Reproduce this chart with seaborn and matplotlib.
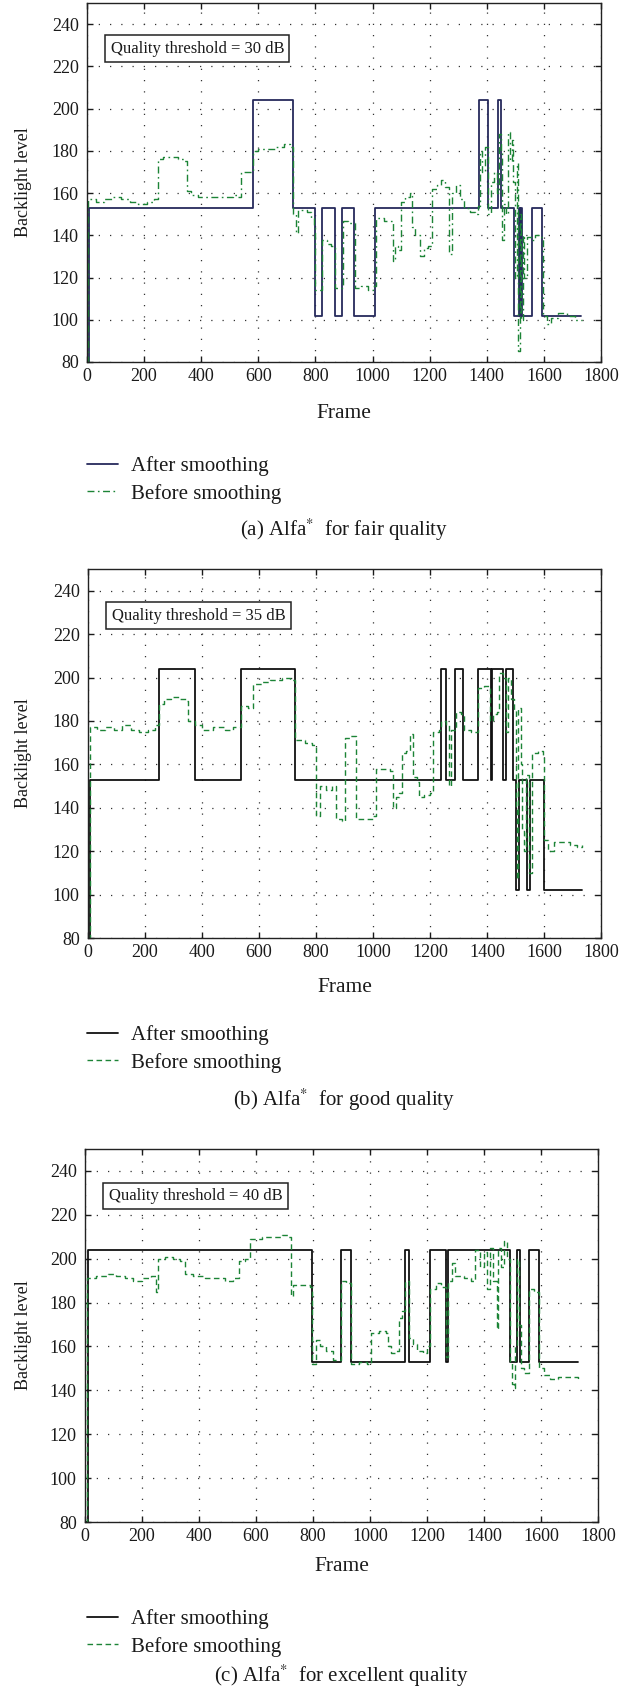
import numpy as np
import pandas as pd
import matplotlib
matplotlib.use("Agg")
import matplotlib.pyplot as plt
import seaborn as sns

# ---------------- data ----------------
thresholds = ["Quality threshold = 30 dB", "Quality threshold = 35 dB", "Quality threshold = 40 dB"]
captions = [r"(a) Alfa$^{*}$  for fair quality", r"(b) Alfa$^{*}$  for good quality",
            r"(c) Alfa$^{*}$  for excellent quality"]
series_labels = ["After smoothing", "Before smoothing"]
x_ticks = [0, 200, 400, 600, 800, 1000, 1200, 1400, 1600, 1800]
y_ticks = [80, 100, 120, 140, 160, 180, 200, 220, 240]

p1_after_frame = [0, 7, 583, 721, 799, 822, 870, 894, 936, 1009, 1374, 1405, 1440, 1451, 1495,
                  1513, 1517, 1521, 1525, 1557, 1595, 1730]
p1_after_level = [80, 153, 204, 153, 102, 153, 102, 153, 102, 153, 204, 153, 204, 153, 102,
                  153, 102, 153, 102, 153, 102, 102]

p1_before_frame = [0, 4, 30, 60, 90, 120, 150, 180, 210, 235, 247, 265, 290, 320, 340, 349, 365, 390,
                   430, 470, 510, 530, 541, 560, 583, 600, 630, 660, 690, 710, 722, 731, 738, 770,
                   785, 795, 800, 822, 840, 855, 870, 895, 915, 940, 960, 985, 1000, 1012, 1040,
                   1060, 1073, 1080, 1090, 1100, 1115, 1130, 1138, 1150, 1165, 1180, 1195, 1207,
                   1225, 1240, 1255, 1268, 1278, 1292, 1305, 1320, 1340, 1360, 1370, 1375, 1385,
                   1395, 1405, 1415, 1425, 1435, 1442, 1450, 1454, 1460, 1468, 1474, 1480, 1487,
                   1493, 1500, 1506, 1511, 1516, 1521, 1526, 1532, 1540, 1555, 1570, 1585, 1597,
                   1610, 1625, 1650, 1680, 1710, 1735]
p1_before_level = [80, 157, 156, 157, 158, 157, 156, 155, 156, 157, 176, 177, 177, 176, 175, 161, 159, 158,
                   158, 158, 159, 158, 170, 170, 180, 181, 181, 182, 183, 182, 150, 141, 152, 151,
                   148, 145, 114, 138, 136, 135, 115, 147, 146, 115, 116, 114, 116, 148, 147,
                   147, 128, 135, 133, 156, 158, 160, 144, 140, 130, 134, 135, 162,
                   164, 166, 163, 131, 160, 164, 157, 153, 151, 150, 154, 180, 170,
                   182, 150, 165, 170, 160, 188, 180, 138, 155, 150, 189, 175, 185,
                   165, 120, 174, 85, 150, 100, 140, 120, 139, 138, 140, 139, 102,
                   98, 101, 103, 102, 100, 100]

p2_after_frame = [0, 7, 248, 375, 537, 728, 1238, 1256, 1289, 1315, 1369, 1413, 1418, 1457, 1466,
                  1491, 1502, 1512, 1540, 1552, 1601, 1732]
p2_after_level = [80, 153, 204, 153, 204, 153, 204, 153, 204, 153, 204, 153, 204, 153, 204,
                  153, 102, 153, 102, 153, 102, 102]

p2_before_frame = [0, 6, 30, 60, 90, 120, 150, 180, 210, 235, 250, 265, 290, 320, 345, 350, 375, 400,
                   440, 480, 510, 537, 560, 580, 610, 640, 680, 710, 728, 760, 785, 800, 815, 835,
                   855, 870, 890, 900, 920, 940, 970, 1000, 1012, 1040, 1060, 1070, 1080, 1090,
                   1100, 1115, 1130, 1140, 1155, 1160, 1180, 1200, 1210, 1230, 1240, 1255, 1265,
                   1275, 1290, 1310, 1320, 1345, 1369, 1390, 1410, 1420, 1435, 1443, 1455, 1465,
                   1475, 1485, 1493, 1500, 1505, 1510, 1518, 1524, 1530, 1538, 1548, 1558, 1580,
                   1595, 1601, 1615, 1635, 1660, 1690, 1715, 1732]
p2_before_level = [80, 177, 176, 177, 176, 178, 176, 175, 176, 178, 188, 190, 191, 190, 189, 180, 178, 176,
                   177, 176, 177, 187, 186, 197, 198, 199, 200, 199, 171, 170, 169, 136, 150, 148,
                   150, 135, 134, 172, 173, 135, 135, 136, 158, 158, 157, 140, 145, 147,
                   165, 166, 174, 154, 152, 145, 146, 147, 175, 176, 180, 178, 150,
                   176, 184, 183, 176, 175, 195, 196, 180, 183, 184, 202, 200, 175,
                   200, 190, 185, 140, 107, 186, 160, 130, 120, 155, 110, 165, 166,
                   163, 125, 120, 124, 124, 123, 122, 123]

p3_after_frame = [0, 10, 798, 897, 934, 1122, 1136, 1211, 1265, 1274, 1491, 1516, 1527, 1557, 1594, 1731]
p3_after_level = [80, 204, 153, 204, 153, 204, 153, 204, 153, 204, 153, 204, 153, 204, 153, 153]

p3_before_frame = [0, 8, 40, 80, 110, 140, 170, 200, 230, 248, 255, 280, 310, 335, 350, 380, 420, 460,
                   490, 520, 540, 560, 580, 620, 660, 690, 712, 722, 730, 770, 790, 798, 810, 825,
                   845, 870, 897, 915, 934, 960, 990, 1003, 1030, 1055, 1063, 1075, 1090, 1100,
                   1112, 1122, 1136, 1150, 1165, 1185, 1200, 1211, 1230, 1250, 1265, 1274, 1288,
                   1300, 1330, 1355, 1370, 1385, 1400, 1410, 1420, 1433, 1445, 1450, 1460, 1470,
                   1482, 1491, 1498, 1505, 1510, 1516, 1522, 1530, 1540, 1557, 1575, 1594, 1610,
                   1630, 1660, 1700, 1731]
p3_before_level = [80, 191, 192, 193, 192, 191, 190, 191, 192, 185, 200, 201, 200, 199, 193, 192, 191, 191,
                   190, 191, 199, 200, 209, 210, 210, 211, 210, 183, 188, 188, 187, 152, 163, 160,
                   158, 154, 190, 189, 152, 153, 152, 166, 167, 166, 160, 157, 158, 173,
                   176, 190, 164, 161, 158, 157, 160, 186, 189, 187, 155, 190, 198,
                   192, 191, 190, 204, 196, 203, 186, 205, 190, 168, 205, 196, 208,
                   200, 153, 143, 141, 160, 200, 170, 150, 148, 186, 185, 150, 147,
                   145, 146, 146, 145]

panels = [
    (p1_after_frame, p1_after_level, p1_before_frame, p1_before_level),
    (p2_after_frame, p2_after_level, p2_before_frame, p2_before_level),
    (p3_after_frame, p3_after_level, p3_before_frame, p3_before_level),
]

# ---------------- style ----------------
sns.set_theme(style="ticks")
plt.rcParams["font.family"] = ["Liberation Serif", "DejaVu Serif"]
plt.rcParams["mathtext.fontset"] = "stix"
plt.rcParams["axes.linewidth"] = 1.0

W, H = 633, 1692
fig = plt.figure(figsize=(W / 100, H / 100), dpi=100)

# axes boxes in pixels: left, right, top, bottom
boxes = [(87, 601, 3, 362), (88, 601, 569, 938), (85, 598, 1149, 1522)]
frame_y = [413, 988, 1566]
legend_top = [456, 1025, 1609]
caption_y = [530, 1100, 1676]
after_colors = ["#262a5c", "#111111", "#111111"]
green = "#1c8436"
before_styles = [(0, (5, 2.5, 1.2, 2.5)), (0, (4, 2.5)), (0, (4, 2.5))]
txt = "#1a1a1a"

for i, (af, al, bf, bl) in enumerate(panels):
    l, r, t, b = boxes[i]
    ax = fig.add_axes([l / W, 1 - b / H, (r - l) / W, (b - t) / H])
    df_a = pd.DataFrame({"Frame": af, "Level": al})
    df_b = pd.DataFrame({"Frame": bf, "Level": bl})
    sns.lineplot(data=df_a, x="Frame", y="Level", ax=ax, estimator=None, sort=False,
                 drawstyle="steps-post", color=after_colors[i], linewidth=1.3)
    sns.lineplot(data=df_b, x="Frame", y="Level", ax=ax, estimator=None, sort=False,
                 drawstyle="steps-post", color=green, linewidth=1.0)
    lines = ax.get_lines()
    lines[1].set_linestyle(before_styles[i])
    ax.set_xlim(0, 1800)
    ax.set_ylim(80, 250)
    ax.set_xticks(x_ticks)
    ax.set_yticks(y_ticks)
    ax.set_xlabel("")
    ax.set_ylabel("")
    ax.tick_params(direction="in", top=True, right=True, length=4, width=1,
                   labelsize=13, colors=txt, pad=4)
    ax.tick_params(axis="y", pad=6)
    ax.grid(True, color="#333333", linestyle=(0, (1, 8)), linewidth=0.9)
    for s in ax.spines.values():
        s.set_color("#222222")
        s.set_linewidth(1.0)

    ax.text(0.046, 0.895, thresholds[i], transform=ax.transAxes, fontsize=12,
            ha="left", va="top", color=txt,
            bbox=dict(boxstyle="square,pad=0.32", fc="white", ec="#222222", lw=1.1))

    cx = (l + r) / 2 / W
    fig.text(cx, 1 - frame_y[i] / H, "Frame", ha="center", va="center", fontsize=15.5, color=txt)
    fig.text(24 / W, 1 - (t + b) / 2 / H, "Backlight level", rotation=90, ha="center", va="center",
             fontsize=13, color=txt)
    fig.legend(lines, series_labels, loc="upper left", frameon=False, fontsize=15,
               bbox_to_anchor=(87 / W, 1 - legend_top[i] / H), handlelength=1.5, handletextpad=0.6,
               labelspacing=0.38, borderpad=0.0, borderaxespad=0.0, labelcolor=txt)
    fig.text(cx, 1 - caption_y[i] / H, captions[i], ha="center", va="center", fontsize=15,
             color=txt)

fig.savefig("out.png", dpi=100)
